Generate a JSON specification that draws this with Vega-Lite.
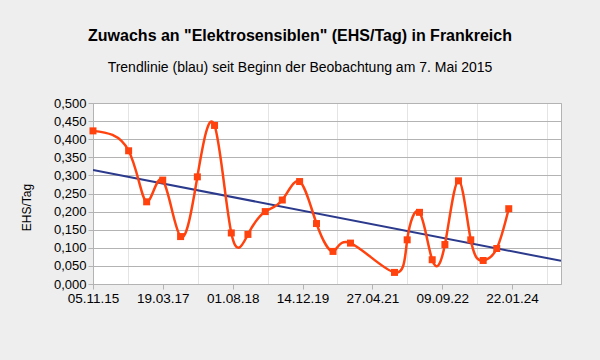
{
  "$schema": "https://vega.github.io/schema/vega-lite/v6.json",
  "autosize": {"type": "none"},
  "width": 468,
  "height": 181,
  "padding": {"left": 93, "top": 103, "right": 39, "bottom": 76},
  "background": "#eeeeee",
  "config": {
    "font": "Liberation Sans",
    "view": {"fill": "white", "stroke": "#b3b3b3", "strokeWidth": 1}
  },
  "title": {
    "text": "Zuwachs an \"Elektrosensiblen\" (EHS/Tag) in Frankreich",
    "subtitle": "Trendlinie (blau) seit Beginn der Beobachtung am 7. Mai 2015",
    "anchor": "middle",
    "frame": "group",
    "dx": -27,
    "offset": 22,
    "fontSize": 16,
    "fontWeight": "bold",
    "color": "black",
    "subtitleFontSize": 14,
    "subtitleColor": "black",
    "subtitlePadding": 17
  },
  "datasets": {
    "series": [
      {"datum": "2015-11-05", "wert": 0.423},
      {"datum": "2016-07-17", "wert": 0.368},
      {"datum": "2016-11-23", "wert": 0.227},
      {"datum": "2017-03-18", "wert": 0.287},
      {"datum": "2017-07-24", "wert": 0.131},
      {"datum": "2017-11-21", "wert": 0.296},
      {"datum": "2018-03-24", "wert": 0.438},
      {"datum": "2018-07-22", "wert": 0.141},
      {"datum": "2018-11-18", "wert": 0.137},
      {"datum": "2019-03-22", "wert": 0.200},
      {"datum": "2019-07-22", "wert": 0.232},
      {"datum": "2019-11-23", "wert": 0.283},
      {"datum": "2020-03-23", "wert": 0.167},
      {"datum": "2020-07-19", "wert": 0.090},
      {"datum": "2020-11-21", "wert": 0.113},
      {"datum": "2021-10-02", "wert": 0.032},
      {"datum": "2022-01-01", "wert": 0.122},
      {"datum": "2022-03-30", "wert": 0.198},
      {"datum": "2022-06-29", "wert": 0.067},
      {"datum": "2022-09-28", "wert": 0.109},
      {"datum": "2023-01-03", "wert": 0.285},
      {"datum": "2023-04-01", "wert": 0.122},
      {"datum": "2023-06-29", "wert": 0.065},
      {"datum": "2023-10-04", "wert": 0.098},
      {"datum": "2023-12-29", "wert": 0.208}
    ],
    "trend": [
      {"datum": "2015-11-05", "wert": 0.315},
      {"datum": "2025-01-06", "wert": 0.064}
    ]
  },
  "encoding": {
    "x": {
      "field": "datum",
      "type": "temporal",
      "scale": {"type": "utc", "domain": [1446681600000, 1736121600000]},
      "axis": {
        "title": null,
        "values": [1446681600000, 1468281600000, 1489881600000, 1511481600000, 1533081600000, 1554681600000, 1576281600000, 1597881600000, 1619481600000, 1641081600000, 1662681600000, 1684281600000, 1705881600000, 1727481600000],
        "labelExpr": "round((datum.value - 1446681600000) / 86400000) % 500 == 0 ? utcFormat(datum.value, '%d.%m.%y') : ''",
        "grid": true,
        "gridColor": {"condition": {"test": "round((datum.value - 1446681600000) / 86400000) % 500 == 0", "value": "transparent"}, "value": "#e4e4e4"},
        "tickColor": {"condition": {"test": "round((datum.value - 1446681600000) / 86400000) % 500 == 0", "value": "#b3b3b3"}, "value": "transparent"},
        "tickSize": 5,
        "domain": false,
        "labelFontSize": 13.5,
        "labelColor": "black",
        "labelPadding": 2,
        "labelFlush": false,
        "labelOverlap": false
      }
    },
    "y": {
      "field": "wert",
      "type": "quantitative",
      "scale": {"domain": [0, 0.5], "nice": false, "zero": true},
      "axis": {
        "title": "EHS/Tag",
        "titleFontSize": 12,
        "titleFontWeight": "normal",
        "titleColor": "black",
        "titleX": -63,
        "titleY": 104,
        "titleAlign": "center",
        "titleBaseline": "alphabetic",
        "values": [0, 0.05, 0.1, 0.15, 0.2, 0.25, 0.3, 0.35, 0.4, 0.45, 0.5],
        "labelExpr": "replace(format(datum.value, '.3f'), '.', ',')",
        "gridColor": "#b3b3b3",
        "tickColor": "#b3b3b3",
        "tickSize": 5,
        "domain": false,
        "labelFontSize": 13,
        "labelColor": "black",
        "labelPadding": 2
      }
    }
  },
  "layer": [
    {
      "data": {"name": "trend"},
      "mark": {"type": "line", "color": "#2b3a8c", "strokeWidth": 2, "clip": true}
    },
    {
      "data": {"name": "series"},
      "mark": {"type": "line", "color": "#ff420e", "strokeWidth": 2.5, "interpolate": "natural"}
    },
    {
      "data": {"name": "series"},
      "mark": {"type": "point", "shape": "square", "filled": true, "color": "#ff420e", "size": 49, "opacity": 1}
    }
  ]
}
